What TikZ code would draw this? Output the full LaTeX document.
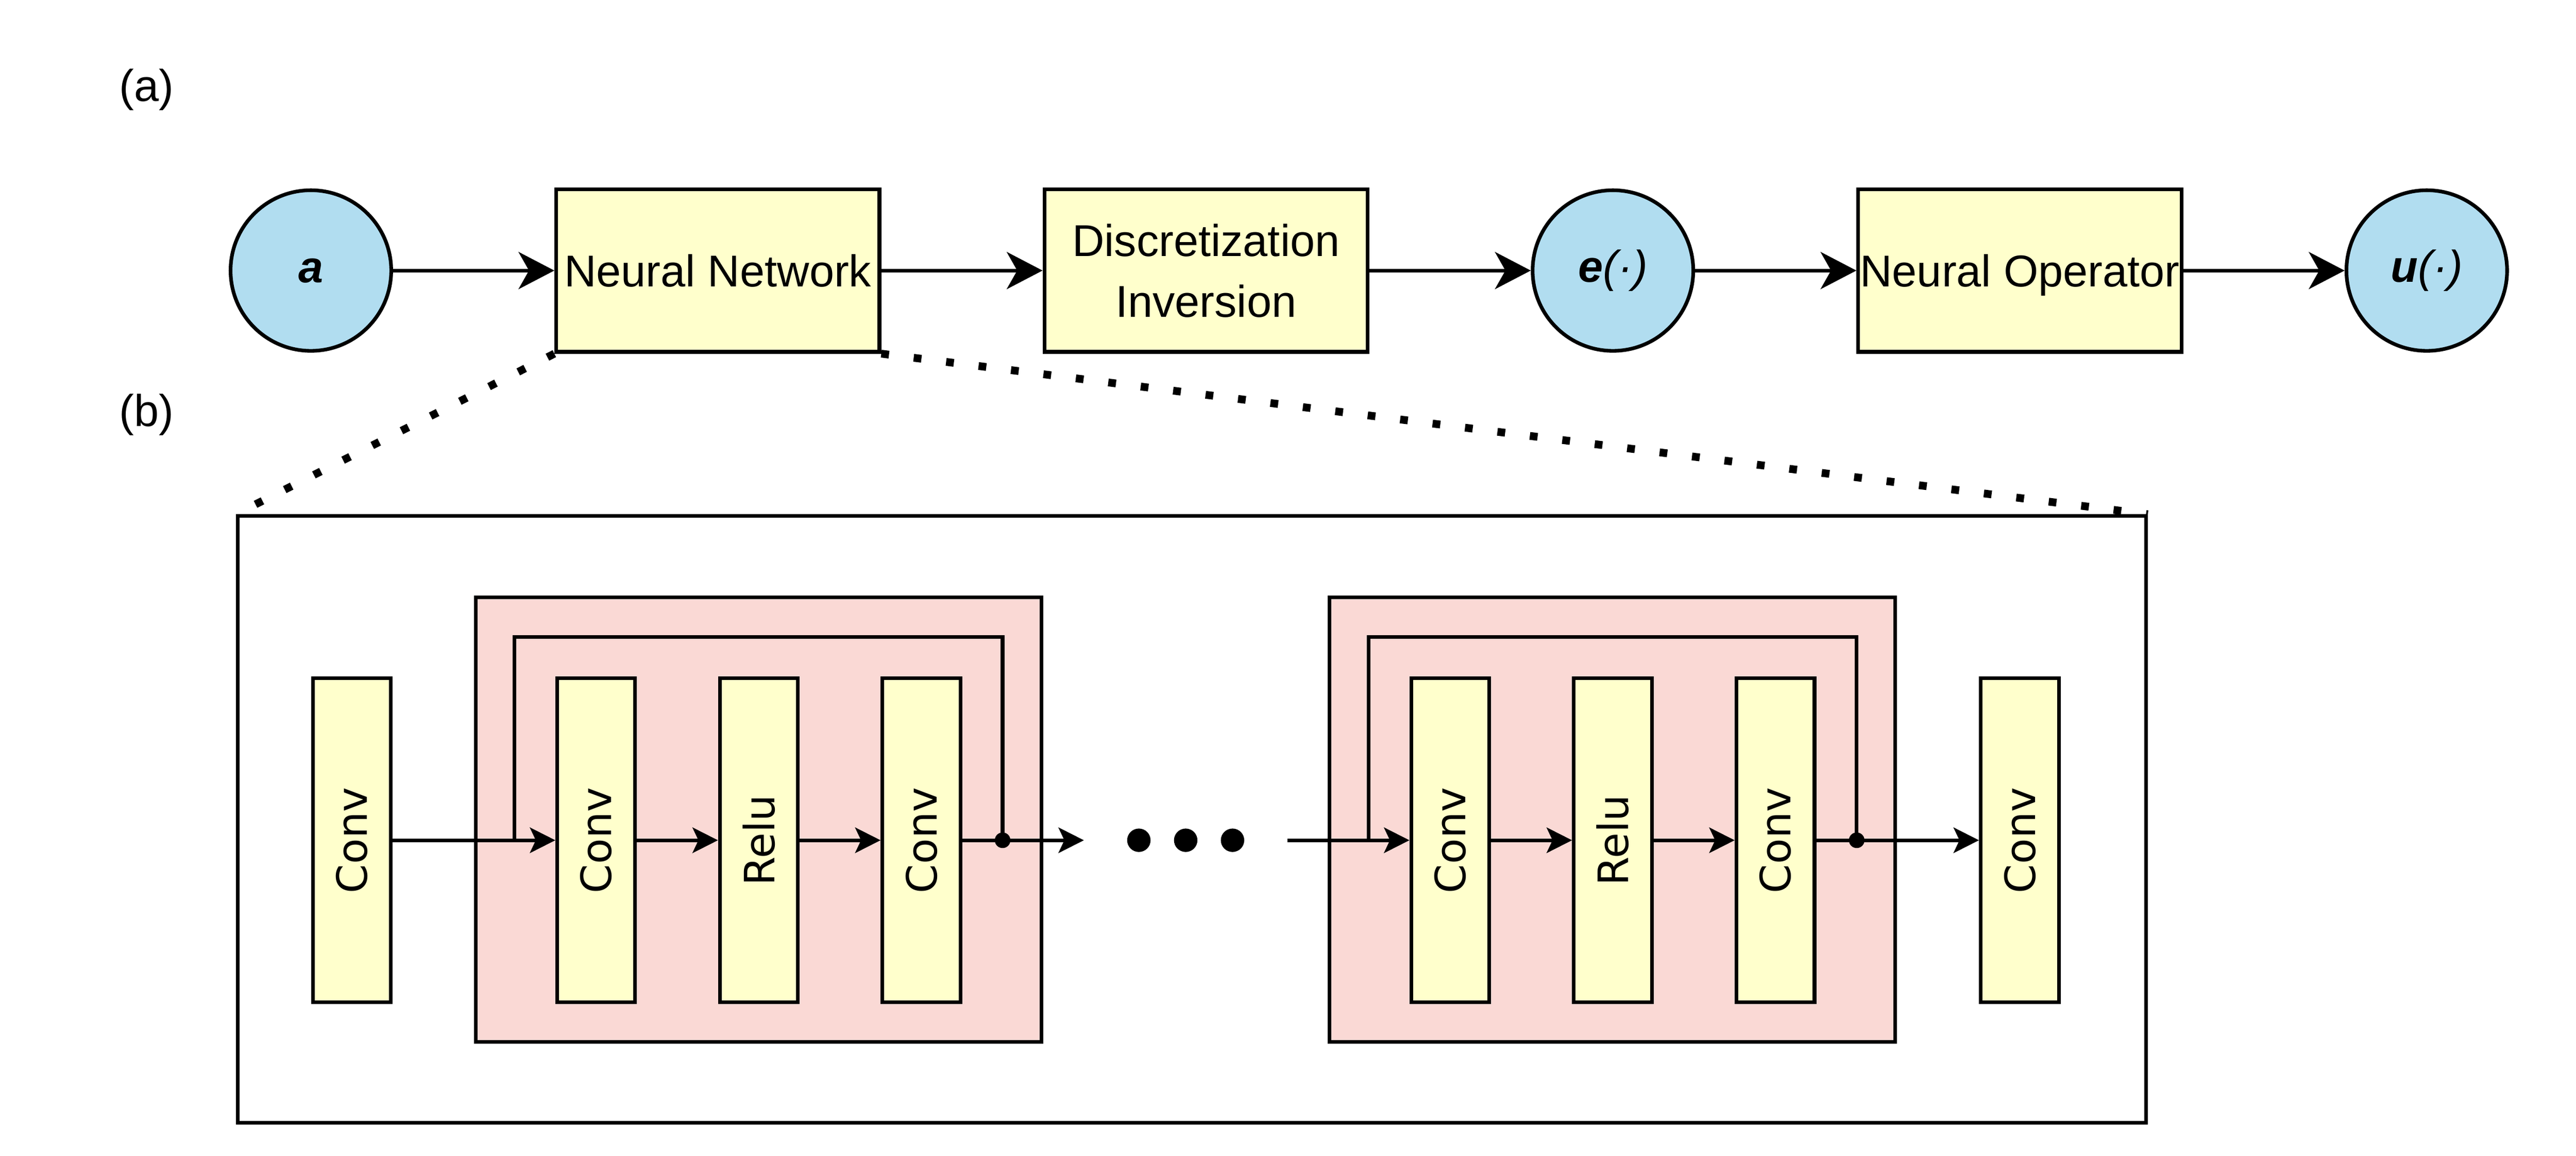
\documentclass[tikz,border=0pt]{standalone}
\usepackage{fontspec}
\setmainfont{Liberation Sans}
\newfontfamily\blockfont{DejaVu Sans}
\usepackage{tikz}
\usetikzlibrary{positioning,arrows.meta,calc}

\definecolor{inblue}{HTML}{B1DDF0}
\definecolor{boxyellow}{HTML}{FFFFCC}
\definecolor{respink}{HTML}{FAD9D5}

\begin{document}
\begin{tikzpicture}[
    line width=1.6pt,
    font=\fontsize{19.5}{26.7}\selectfont,
    signal/.style={circle, draw, fill=inblue, minimum size=2.47cm, inner sep=0pt, font=\fontsize{19.5}{26.7}\selectfont\itshape},
    module/.style={rectangle, draw, fill=boxyellow, minimum width=4.97cm, minimum height=2.5cm, inner sep=0pt, text depth=0pt, align=center},
    layer/.style={rectangle, draw, fill=boxyellow, minimum width=1.2cm, minimum height=4.98cm, inner sep=0pt, font=\blockfont\fontsize{18.3}{22}\selectfont},
    resblock/.style={rectangle, draw, fill=respink, minimum width=8.7cm, minimum height=6.84cm},
    junction/.style={circle, fill, inner sep=0pt, minimum size=0.24cm},
    flow/.style={-{Stealth[length=0.55cm, width=0.57cm, inset=0.16cm]}},
    link/.style={-{Stealth[length=0.39cm, width=0.39cm, inset=0.09cm]}},
    zoomline/.style={line width=3.4pt, dash pattern=on 3.4pt off 10.9pt}
  ]
    \useasboundingbox (0, 0) rectangle (39.606, -17.769);

    \node (lbla) at (2.256, -1.381) {(a)};
    \node (lblb) at (2.256, -6.381) {(b)};

    \node (a) at (4.78, -4.16) [signal] {\textbf{a}};
    \node (nn) [module, right=2.48cm of a] {Neural Network};
    \node (di) [module, right=2.48cm of nn] {Discretization\\Inversion};
    \node (e) [signal, right=2.48cm of di] {\textbf{e}(·)};
    \node (no) [module, right=2.48cm of e] {Neural Operator};
    \node (u) [signal, right=2.48cm of no] {\textbf{u}(·)};

    \draw [flow] (a) -- (nn);
    \draw [flow] (nn) -- (di);
    \draw [flow] (di) -- (e);
    \draw [flow] (e) -- (no);
    \draw [flow] (no) -- (u);

    \node (frame) at (18.325, -12.6) [draw, minimum width=29.34cm, minimum height=9.33cm] {};
    \node (res1) at (11.666, -12.603) [resblock] {};
    \node (res2) at (24.791, -12.603) [resblock] {};

    \node (l0) at (5.41, -12.92) [layer] {\rotatebox{90}{Conv}};
    \node (c1) [layer, right=2.5cm of l0] {\rotatebox{90}{Conv}};
    \node (r1) [layer, right=1.244cm of c1] {\rotatebox{90}{Relu}};
    \node (c2) [layer, right=1.244cm of r1] {\rotatebox{90}{Conv}};
    \node (c3) [layer, right=6.875cm of c2] {\rotatebox{90}{Conv}};
    \node (r2) [layer, right=1.244cm of c3] {\rotatebox{90}{Relu}};
    \node (c4) [layer, right=1.244cm of r2] {\rotatebox{90}{Conv}};
    \node (c5) [layer, right=2.5cm of c4] {\rotatebox{90}{Conv}};

    \node (j1) at ($(c2.east)+(0.62, 0)$) [junction] {};
    \node (j2) at ($(c4.east)+(0.62, 0)$) [junction] {};
    \coordinate (s1) at ($(c1.west)+(-0.63, 0)$);
    \coordinate (s2) at ($(c3.west)+(-0.63, 0)$);
    \coordinate (t1) at ($(c1.north)+(0, 0.61)$);
    \coordinate (t2) at ($(c3.north)+(0, 0.61)$);
    \coordinate (o1) at ($(j1)+(1.25, 0)$);
    \coordinate (i2) at ($(c3.west)+(-1.875, 0)$);

    \draw [link] (l0) -- (c1);
    \draw [link] (c1) -- (r1);
    \draw [link] (r1) -- (c2);
    \draw (c2) -- (j1.center);
    \draw [link] (j1.center) -- (o1);
    \draw (s1) |- (t1) -| (j1.center);

    \draw [link] (i2) -- (c3);
    \draw [link] (c3) -- (r2);
    \draw [link] (r2) -- (c4);
    \draw (c4) -- (j2.center);
    \draw [link] (j2.center) -- (c5);
    \draw (s2) |- (t2) -| (j2.center);

    \foreach \i/\x in {1/17.51, 2/18.23, 3/18.95}
        \node (dot\i) at (\x, -12.92) [circle, fill, inner sep=0pt, minimum size=0.36cm] {};

    \draw [zoomline] (nn.south west) -- (frame.north west);
    \draw [zoomline] (nn.south east) -- (frame.north east);
\end{tikzpicture}
\end{document}
